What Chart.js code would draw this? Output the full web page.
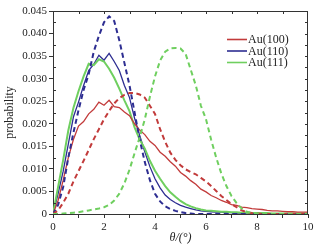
<!DOCTYPE html>
<html>
<head>
<meta charset="utf-8">
<script src="https://cdn.jsdelivr.net/npm/chart.js@4.4.0/dist/chart.umd.min.js"></script>
<style>
  html, body { margin: 0; padding: 0; background: #fff; }
  #wrap { width: 327px; height: 251px; }
</style>
</head>
<body>
<div id="wrap"><canvas id="prob" width="327" height="251"></canvas></div>
<script>
// theta in degrees
const theta = [0,0.2,0.4,0.6,0.8,1,1.2,1.4,1.6,1.8,2,2.2,2.4,2.6,2.8,3,3.2,3.4,3.6,3.8,4,4.2,4.4,4.6,4.8,5,
  5.2,5.4,5.6,5.8,6,6.2,6.4,6.6,6.8,7,7.2,7.4,7.6,7.8,8,8.2,8.4,8.6,8.8,9,9.2,9.4,9.6,9.8,10]

// solid = simulation, dashed = fit
const au100Sim = [0,0.003,0.0075,0.0125,0.0165,0.0195,0.0205,0.0222,0.0232,0.0248,0.0241,0.0252,0.0238,0.0236,0.0226,0.0218,
  0.0200,0.0186,0.0176,0.0161,0.0152,0.0137,0.0128,0.0116,0.0106,0.0092,0.0084,0.0074,0.0066,0.0055,0.0049,0.0041,0.0036,
  0.0030,0.0026,0.0021,0.0019,0.0015,0.0014,0.0012,0.0011,0.0010,0.0008,0.0007,0.0007,0.0006,0.0005,0.0005,0.0004,0.0004,0.0004]
const au100Fit = [0,0.0008,0.0025,0.0045,0.0072,0.0095,0.0118,0.0142,0.0166,0.0188,0.021,0.0228,0.0245,0.0257,0.0264,0.0268,
  0.0268,0.0265,0.0258,0.0240,0.0222,0.0188,0.0160,0.0136,0.0120,0.0108,0.0099,0.0093,0.0088,0.0080,0.0072,0.0062,0.0051,
  0.0040,0.0031,0.0022,0.0015,0.0008,0.0004,0.0002,0.0001,0,0,0,0,0,0,0,0,0,0]
const au110Sim = [0,0.0045,0.0095,0.0155,0.0215,0.0248,0.0285,0.0318,0.0332,0.0352,0.0341,0.0356,0.0338,0.0318,0.0285,0.0258,
  0.0212,0.0174,0.0138,0.0105,0.0078,0.0058,0.0042,0.0032,0.0025,0.0019,0.0015,0.0012,0.0009,0.0007,0.0006,0.0005,0.0004,
  0.0004,0.0003,0.0003,0.0002,0.0002,0.0002,0.0002,0.0001,0.0001,0.0001,0.0001,0.0001,0.0001,0.0001,0.0001,0.0001,0.0001,0.0001]
const au110Fit = [0,0.002,0.006,0.0125,0.018,0.023,0.0275,0.031,0.036,0.0395,0.0425,0.0438,0.0428,0.0385,0.0335,0.0285,
  0.0225,0.0165,0.0115,0.0075,0.0045,0.0028,0.0017,0.0011,0.0007,0.0004,0.0002,0.0001,0,0,0,0,0,0,0,0,0,0,0,0,0,
  0,0,0,0,0,0,0,0,0,0]
const au111Sim = [0,0.006,0.012,0.0185,0.0235,0.0272,0.0305,0.0333,0.0330,0.0343,0.0338,0.0322,0.0302,0.0278,0.0252,0.0228,
  0.0192,0.0165,0.0145,0.0118,0.0096,0.0078,0.0062,0.0048,0.0038,0.0029,0.0022,0.0017,0.0013,0.0010,0.0008,0.0007,0.0006,
  0.0005,0.0005,0.0004,0.0004,0.0003,0.0003,0.0002,0.0002,0.0002,0.0002,0.0001,0.0001,0.0001,0.0001,0.0001,0.0001,0.0001,0.0001]
const au111Fit = [0,0,0.0001,0.0002,0.0003,0.0004,0.0006,0.0008,0.001,0.0012,0.0015,0.002,0.003,0.0045,0.0068,0.0098,
  0.0135,0.017,0.021,0.026,0.0305,0.034,0.036,0.0367,0.0368,0.0367,0.0355,0.032,0.0285,0.024,0.021,0.0165,0.0125,
  0.009,0.0062,0.004,0.0024,0.0012,0.0005,0.0002,0.0001,0,0,0,0,0,0,0,0,0,0]

const seriesNames = ['Au(100)', 'Au(110)', 'Au(111)']
const seriesColors = ['#c23b3b', '#2d2d91', '#6fcf5f']

const xTicks = [0, 2, 4, 6, 8, 10]
const yTicks = [0, 0.005, 0.010, 0.015, 0.020, 0.025, 0.030, 0.035, 0.040, 0.045]

function pts(ys){
    return ys.map(function(y, i){ return {x: theta[i], y: y} })
}

var font = 'Liberation Serif'

// frame on top/right plus inner minor ticks
const framePlugin = {
    id: 'frame',
    afterDraw(chart){
        const c = chart.ctx, a = chart.chartArea
        const xs = chart.scales.x, ys = chart.scales.y
        c.save()
        c.strokeStyle = '#333'
        c.lineWidth = 1
        c.beginPath()
        c.moveTo(a.left, a.top + 0.5); c.lineTo(a.right, a.top + 0.5)
        c.moveTo(a.right - 0.5, a.top); c.lineTo(a.right - 0.5, a.bottom)
        for (let v = 1; v < 10; v++) {
            let px = Math.round(xs.getPixelForValue(v)) + 0.5
            c.moveTo(px, a.top); c.lineTo(px, a.top + 3)
        }
        for (let k = 1; k < 18; k++) {
            let py = Math.round(ys.getPixelForValue(k * 0.0025)) + 0.5
            c.moveTo(a.right, py); c.lineTo(a.right - 3, py)
            if (k % 2 == 1) { c.moveTo(a.left, py); c.lineTo(a.left + 3, py) }
        }
        c.stroke()

        // legend
        c.font = '12px ' + font
        c.textBaseline = 'middle'
        c.fillStyle = '#222'
        seriesNames.forEach(function(name, i){
            let y = 39.5 + i * 11.5
            c.strokeStyle = seriesColors[i]
            c.lineWidth = 1.6
            c.beginPath(); c.moveTo(227, y); c.lineTo(247, y); c.stroke()
            c.fillText(name, 248, y + 0.5)
        })
        c.restore()
    }
}

function line(data, i, dashed){
    return {
        label: seriesNames[i] + (dashed ? ' fit' : ''),
        data: pts(data),
        borderColor: seriesColors[i],
        borderWidth: dashed ? 2 : (i == 2 ? 2 : 1.3),
        borderDash: dashed ? [5, 3.5] : [],
        pointRadius: 0,
        tension: 0,
        fill: false
    }
}

var ctx = document.getElementById('prob')
var chart = new Chart(ctx, {
    type: 'line',
    data: {
        datasets: [
            line(au111Fit, 2, true),
            line(au100Fit, 0, true),
            line(au110Fit, 1, true),
            line(au100Sim, 0, false),
            line(au111Sim, 2, false),
            line(au110Sim, 1, false)
        ]
    },
    options: {
        responsive: false,
        animation: false,
        events: [],
        layout: { padding: { left: 0, right: 19, top: 11, bottom: 0 } },
        plugins: { legend: { display: false }, tooltip: { enabled: false } },
        scales: {
            x: {
                type: 'linear', min: 0, max: 10,
                afterFit: function(s){ s.height = 37 },
                afterBuildTicks: function(s){
                    s.ticks = [0,1,2,3,4,5,6,7,8,9,10].map(function(v){ return {value: v} })
                },
                ticks: {
                    color: '#222', padding: 3, maxRotation: 0, autoSkip: false,
                    font: { family: font, size: 11 },
                    callback: function(v){ return xTicks.indexOf(v) >= 0 ? String(v) : '' }
                },
                grid: { drawOnChartArea: false, tickLength: 4, tickColor: '#333' },
                border: { color: '#333', width: 1 },
                title: {
                    display: true, text: 'θ/(°)', color: '#222',
                    font: { family: font, size: 12, style: 'italic' },
                    padding: { top: 0, bottom: 6 }
                }
            },
            y: {
                type: 'linear', min: 0, max: 0.045,
                afterFit: function(s){ s.width = 53 },
                afterBuildTicks: function(s){
                    s.ticks = yTicks.map(function(v){ return {value: v} })
                },
                ticks: {
                    color: '#222', padding: 2, autoSkip: false,
                    font: { family: font, size: 11 },
                    callback: function(v){ return v == 0 ? '0' : v.toFixed(3) }
                },
                grid: { drawOnChartArea: false, tickLength: 4, tickColor: '#333' },
                border: { color: '#333', width: 1 },
                title: {
                    display: true, text: 'probability', color: '#222',
                    font: { family: font, size: 12 },
                    padding: { top: 3, bottom: 0 }
                }
            }
        }
    },
    plugins: [framePlugin]
});
</script>
</body>
</html>
